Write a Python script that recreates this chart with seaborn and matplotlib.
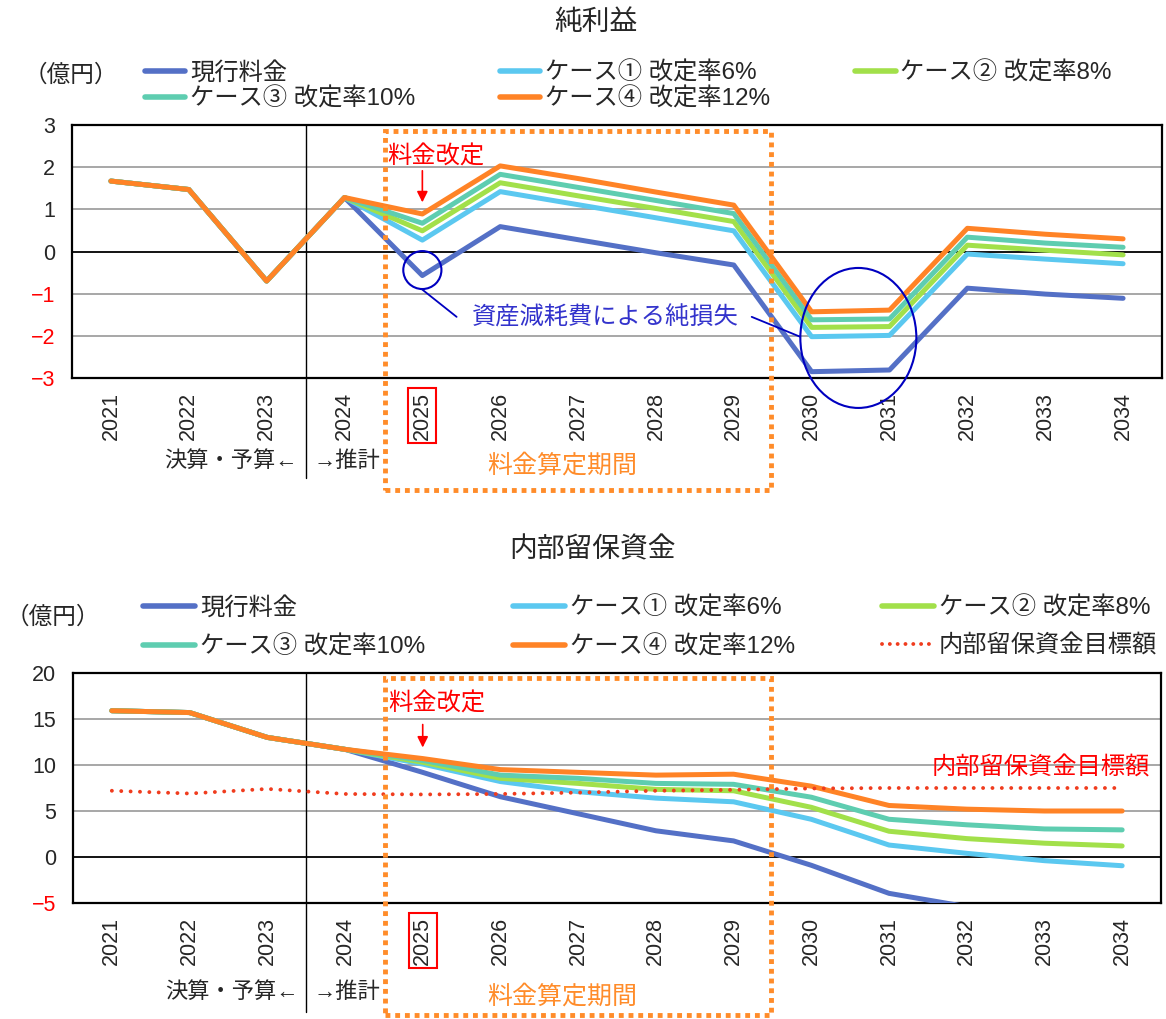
import numpy as np
import pandas as pd
import matplotlib.pyplot as plt
import seaborn as sns
from matplotlib.lines import Line2D
from matplotlib.patches import Rectangle, Ellipse

# --- data ---
years = list(range(2021, 2035))
series = ['現行料金', 'ケース① 改定率6%', 'ケース② 改定率8%', 'ケース③ 改定率10%', 'ケース④ 改定率12%']
colors = ['#5470C6', '#5BC8F0', '#A2E04A', '#5ECDB0', '#FF8326']

profit_current = [1.67, 1.47, -0.70, 1.28, -0.57, 0.59, 0.28, -0.03, -0.32, -2.85, -2.81, -0.87, -1.01, -1.11]
profit_case1 = [1.67, 1.47, -0.70, 1.28, 0.27, 1.42, 1.11, 0.80, 0.49, -2.02, -1.99, -0.06, -0.18, -0.29]
profit_case2 = [1.67, 1.47, -0.70, 1.28, 0.49, 1.63, 1.32, 1.02, 0.71, -1.80, -1.78, 0.15, 0.03, -0.08]
profit_case3 = [1.67, 1.47, -0.70, 1.28, 0.67, 1.83, 1.52, 1.21, 0.90, -1.62, -1.60, 0.34, 0.20, 0.10]
profit_case4 = [1.67, 1.47, -0.70, 1.28, 0.89, 2.03, 1.73, 1.41, 1.10, -1.43, -1.39, 0.55, 0.41, 0.30]

reserve_current = [15.9, 15.7, 13.0, 11.7, 9.2, 6.55, 4.7, 2.85, 1.75, -0.9, -3.95, -5.4, -6.5, -7.6]
reserve_case1 = [15.9, 15.7, 13.0, 11.7, 10.1, 8.2, 7.1, 6.4, 6.0, 4.1, 1.3, 0.4, -0.4, -0.95]
reserve_case2 = [15.9, 15.7, 13.0, 11.7, 10.3, 8.55, 8.0, 7.35, 7.2, 5.4, 2.8, 2.0, 1.5, 1.2]
reserve_case3 = [15.9, 15.7, 13.0, 11.7, 10.5, 8.9, 8.55, 8.0, 7.9, 6.5, 4.1, 3.5, 3.05, 2.95]
reserve_case4 = [15.9, 15.7, 13.0, 11.7, 10.7, 9.5, 9.2, 8.9, 9.0, 7.7, 5.6, 5.2, 5.0, 5.0]
reserve_target = [7.2, 6.9, 7.4, 6.85, 6.8, 6.85, 7.0, 7.2, 7.3, 7.45, 7.5, 7.5, 7.5, 7.5]
target_label = '内部留保資金目標額'

profit = pd.DataFrame({'year': years * 5,
                       'series': np.repeat(series, len(years)),
                       'value': profit_current + profit_case1 + profit_case2 + profit_case3 + profit_case4})
reserve = pd.DataFrame({'year': years * 5,
                        'series': np.repeat(series, len(years)),
                        'value': reserve_current + reserve_case1 + reserve_case2 + reserve_case3 + reserve_case4})
target = pd.DataFrame({'year': years, 'value': reserve_target})

sns.set_style('white')
plt.rcParams['font.family'] = ['Liberation Sans', 'Noto Sans CJK JP', 'DejaVu Sans']
plt.rcParams['axes.unicode_minus'] = True

fig = plt.figure(figsize=(11.66, 10.19), dpi=100)
W, H = 1166, 1019


def axes_px(l, t, r, b):
    return fig.add_axes([l / W, 1 - b / H, (r - l) / W, (b - t) / H])


ax1 = axes_px(72, 125, 1162, 378)
ax2 = axes_px(73, 673, 1161, 903)

red = '#FF0000'
box_orange = '#FF8C2A'


def style_axes(ax, ylim, step, box_y, vline_y, label_y):
    ax.set_xlim(2020.5, 2034.5)
    ax.set_ylim(*ylim)
    ticks = np.arange(ylim[0], ylim[1] + step / 2, step)
    ax.set_yticks(ticks)
    ax.set_xticks(years)
    ax.set_xticklabels([str(y) for y in years], rotation=90, fontsize=15.5)
    ax.tick_params(axis='x', length=0, pad=10)
    ax.tick_params(axis='y', length=0, pad=12, labelsize=15.5)
    ax.set_xlabel('')
    ax.set_ylabel('')
    for t in ticks:
        ax.axhline(t, color='black' if t == 0 else '#A0A0A0', lw=1.3, zorder=1)
    for s in ax.spines.values():
        s.set_color('black')
        s.set_linewidth(1.6)
    for lab, t in zip(ax.get_yticklabels(), ticks):
        if t < 0:
            lab.set_color(red)
    lab = ax.get_xticklabels()[years.index(2025)]
    lab.set_bbox(dict(facecolor='none', edgecolor=red, lw=1.5, pad=2.5))
    tr = ax.get_xaxis_transform()
    ax.plot([2023.5, 2023.5], [1, vline_y], color='black', lw=1, transform=tr, clip_on=False, zorder=1)
    ax.add_patch(Rectangle((2024.52, box_y), 2029.48 - 2024.52, 0.977 - box_y, transform=tr,
                           fill=False, edgecolor=box_orange, lw=3.5, ls=(0, (1, 1)), clip_on=False, zorder=6))
    ax.text(2023.4, label_y, '決算・予算←', transform=tr, ha='right', va='center', fontsize=16)
    ax.text(2023.6, label_y, '→推計', transform=tr, ha='left', va='center', fontsize=16)
    ax.text(2026.8, label_y - 0.015, '料金算定期間', transform=tr, ha='center', va='center',
            fontsize=18, color=box_orange)


# --- top: 純利益 ---
sns.lineplot(data=profit, x='year', y='value', hue='series', hue_order=series, palette=colors,
             lw=3.6, legend=False, ax=ax1, zorder=3, solid_capstyle='round', solid_joinstyle='round')
style_axes(ax1, (-3, 3), 1, -0.443, -0.395, -0.33)

ax1.text(2024.55, 2.24, '料金改定', color=red, fontsize=17.5, ha='left', va='center')
ax1.annotate('', xy=(2025, 1.1), xytext=(2025, 1.98),
             arrowprops=dict(arrowstyle='-|>', color=red, lw=1.2, mutation_scale=16))
ax1.text(2027.35, -1.58, '資産減耗費による純損失', color='#3333CC', fontsize=17.5, ha='center', va='center')
ax1.add_patch(Ellipse((2025.0, -0.44), 0.49, 0.9, fill=False, edgecolor='#0000C0', lw=1.5, zorder=5))
ax1.add_patch(Ellipse((2030.6, -2.05), 1.49, 3.32, fill=False, edgecolor='#0000C0', lw=1.5,
                      zorder=5, clip_on=False))
ax1.plot([2024.99, 2025.44], [-0.89, -1.55], color='#0000C0', lw=1.3, zorder=5)
ax1.plot([2029.23, 2029.85], [-1.55, -2.02], color='#0000C0', lw=1.3, zorder=5)

# --- bottom: 内部留保資金 ---
sns.lineplot(data=reserve, x='year', y='value', hue='series', hue_order=series, palette=colors,
             lw=3.6, legend=False, ax=ax2, zorder=3, solid_capstyle='round', solid_joinstyle='round')
sns.lineplot(data=target, x='year', y='value', color='#F03C1E', lw=2.8, ax=ax2, zorder=4,
             linestyle=(0, (0.01, 2.4)), dash_capstyle='round')
style_axes(ax2, (-5, 20), 5, -0.487, -0.474, -0.39)

ax2.text(2024.55, 16.6, '料金改定', color=red, fontsize=17.5, ha='left', va='center')
ax2.annotate('', xy=(2025, 11.6), xytext=(2025, 14.7),
             arrowprops=dict(arrowstyle='-|>', color=red, lw=1.2, mutation_scale=16))
ax2.text(2034.36, 9.7, target_label, color=red, fontsize=17.5, ha='right', va='center')

# --- titles, units, legends ---
fig.text(596 / W, 1 - 23 / H, '純利益', ha='center', va='center', fontsize=20)
fig.text(593 / W, 1 - 550 / H, '内部留保資金', ha='center', va='center', fontsize=20)
fig.text(24 / W, 1 - 75 / H, '（億円）', ha='left', va='center', fontsize=17)
fig.text(6 / W, 1 - 618 / H, '（億円）', ha='left', va='center', fontsize=17)

order = [0, 3, 1, 4, 2]
h_top = [Line2D([], [], color=colors[i], lw=4) for i in order]
fig.legend(h_top, [series[i] for i in order], ncol=3, loc='upper left',
           bbox_to_anchor=(145 / W, 1 - 61 / H), frameon=False, fontsize=17.5, borderaxespad=0,
           handlelength=1.65, handletextpad=0.2, columnspacing=3.5, labelspacing=0.12, borderpad=0)

h_bot = h_top + [Line2D([], [], color='#F03C1E', lw=2.8, ls=(0, (0.01, 2.0)), dash_capstyle='round')]
lab_bot = [series[i] for i in order] + [target_label]
fig.legend(h_bot, lab_bot, ncol=3, loc='upper left',
           bbox_to_anchor=(143 / W, 1 - 596 / H), frameon=False, fontsize=17.5, borderaxespad=0,
           handlelength=2.14, handletextpad=0.2, columnspacing=3.6, labelspacing=0.64, borderpad=0)

fig.savefig('out.png', dpi=100)
